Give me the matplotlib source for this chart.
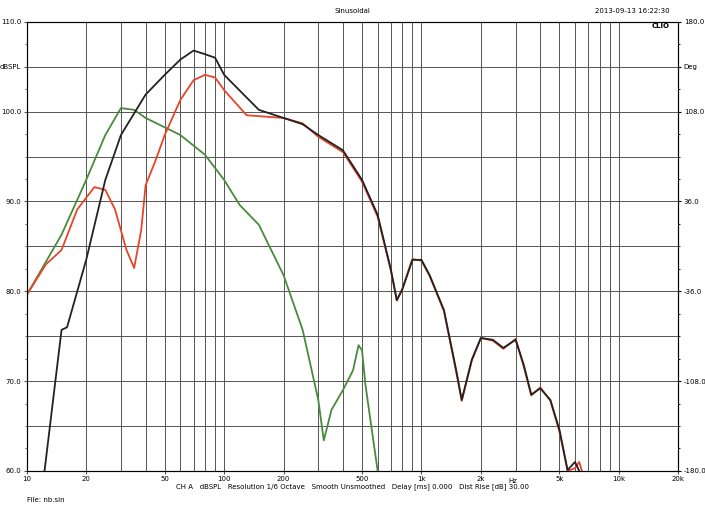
import matplotlib.pyplot as plt
from matplotlib.ticker import FixedLocator, NullLocator, MultipleLocator

# black curve (total)
black_f = [12.3, 15, 16, 20, 25, 30, 40, 50, 60, 70, 80, 90, 100, 150, 200, 250, 300, 400, 500, 600, 700,
           750, 800, 900, 1000, 1100, 1300, 1500, 1600, 1800, 2000, 2300, 2600, 3000, 3300, 3600, 4000,
           4500, 5000, 5500, 6000, 6300]
black_db = [60, 75.7, 76.0, 83.5, 92.4, 97.4, 101.9, 104.1, 105.8, 106.8, 106.4, 106.0, 104.1, 100.2, 99.3,
            98.6, 97.4, 95.7, 92.4, 88.5, 82.4, 79.0, 80.2, 83.5, 83.5, 81.8, 77.9, 71.2, 67.9, 72.4, 74.8,
            74.6, 73.7, 74.6, 71.8, 68.5, 69.2, 67.9, 64.6, 60.1, 61.0, 60]

# red curve
red_f = [10, 12.5, 15, 18, 22, 25, 28, 32, 35, 38, 40, 45, 50, 60, 70, 80, 90, 100, 130, 200, 250, 300,
         400, 500, 600, 700, 750, 800, 900, 1000, 1100, 1300, 1500, 1600, 1800, 2000, 2300, 2600, 3000,
         3300, 3600, 4000, 4500, 5000, 5500, 6000, 6300, 6500]
red_db = [79.6, 83.0, 84.6, 89.1, 91.6, 91.3, 89.1, 84.6, 82.6, 86.8, 91.8, 94.6, 97.4, 101.3, 103.5, 104.1,
          103.8, 102.4, 99.6, 99.3, 98.7, 97.2, 95.5, 92.2, 88.3, 82.3, 79.0, 80.3, 83.6, 83.4, 81.7, 77.8,
          71.0, 67.8, 72.3, 74.8, 74.5, 73.6, 74.7, 71.6, 68.4, 69.3, 67.8, 64.4, 60.0, 60.3, 61.0, 60]

# green curve
green_f = [10, 15, 20, 25, 30, 35, 40, 60, 80, 100, 120, 150, 200, 250, 300, 320, 350, 400, 450, 480, 500,
           520, 560, 600]
green_db = [79.6, 86.3, 92.4, 97.4, 100.4, 100.2, 99.3, 97.4, 95.2, 92.4, 89.6, 87.4, 81.8, 75.7, 67.9,
            63.4, 66.8, 69.0, 71.2, 74.0, 73.4, 69.6, 64.6, 60]

xticks = [10, 20, 50, 100, 200, 500, 1000, 2000, 5000, 10000, 20000]
xlabels = ['10', '20', '50', '100', '200', '500', '1k', '2k', '5k', '10k', '20k']
xgrid = [20, 30, 40, 50, 60, 70, 80, 90, 100, 200, 300, 400, 500, 600, 700, 800, 900, 1000,
         2000, 3000, 4000, 5000, 6000, 7000, 8000, 9000, 10000]
yticks = [60, 70, 80, 90, 100, 105, 110]
ylabels = ['60.0', '70.0', '80.0', '90.0', '100.0', 'dBSPL', '110.0']
rlabels = ['-180.0', '-108.0', '-36.0', '36.0', '108.0', 'Deg', '180.0']

fig = plt.figure(figsize=(7.05, 5.08), dpi=100)
ax = fig.add_axes([0.038, 0.073, 0.924, 0.884])
ax.set_xscale('log')
ax.set_xlim(10, 20000)
ax.set_ylim(60, 110)

for g in xgrid:
    ax.axvline(g, color='#555555', lw=0.7, zorder=1)
for v in range(65, 110, 5):
    ax.axhline(v, color='#555555', lw=0.7, zorder=1)

ax.plot(green_f, green_db, color='#4a8a3c', lw=1.3, zorder=3)
ax.plot(red_f, red_db, color='#e8442a', lw=1.3, zorder=3)
ax.plot(black_f, black_db, color='#222222', lw=1.3, zorder=4)

ax.xaxis.set_major_locator(FixedLocator(xticks))
ax.xaxis.set_minor_locator(NullLocator())
ax.set_xticklabels(xlabels)
ax.set_yticks(yticks)
ax.set_yticklabels(ylabels)
ax.yaxis.set_minor_locator(MultipleLocator(2.5))
ax.tick_params(labelsize=5, length=2, color='#555555', pad=2)
ax.tick_params(which='minor', length=1.5, color='#555555')
ax2 = ax.twinx()
ax2.set_ylim(60, 110)
ax2.set_yticks(yticks)
ax2.set_yticklabels(rlabels)
ax2.yaxis.set_minor_locator(MultipleLocator(2.5))
ax2.tick_params(labelsize=5, length=2, pad=2)
ax2.tick_params(which='minor', length=1.5)
ax.text(2900, 58.9, 'Hz', fontsize=5, ha='center', va='center', clip_on=False)

for s in ax.spines.values():
    s.set_color('#444444')

fig.text(0.5, 0.975, 'Sinusoidal', fontsize=5, ha='center')
fig.text(0.95, 0.975, '2013-09-13 16:22:30', fontsize=5, ha='right')
fig.text(0.95, 0.945, 'CLIO', fontsize=5, ha='right', weight='bold')
fig.text(0.5, 0.038, 'CH A   dBSPL   Resolution 1/6 Octave   Smooth Unsmoothed   Delay [ms] 0.000   Dist Rise [dB] 30.00',
         fontsize=5, ha='center')
fig.text(0.038, 0.012, 'File: nb.sin', fontsize=5)

fig.savefig('out.png', dpi=100)
